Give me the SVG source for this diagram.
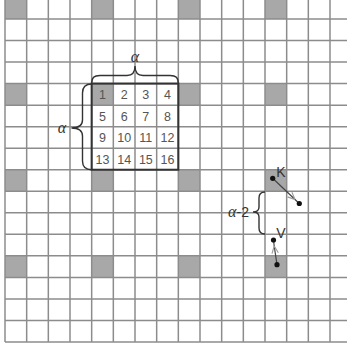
<svg xmlns="http://www.w3.org/2000/svg" width="347" height="349" viewBox="0 0 347 349">
<style>
.grid line{stroke:#8c8c8c;stroke-width:1.5}
.shade{fill:#a8a8a8}
.num{font-family:"Liberation Sans",Arial,sans-serif;font-size:12.5px;fill:#555;text-anchor:middle}
.lbl{font-family:"Liberation Sans",Arial,sans-serif;font-size:14px;fill:#333;text-anchor:middle}
.alpha{font-family:"Liberation Serif","DejaVu Serif",serif;font-style:italic;font-size:16px;fill:#333;text-anchor:middle}
.brace{fill:none;stroke:#333;stroke-width:1.4}
.conn{fill:none;stroke:#444;stroke-width:1.2}
.dot{fill:#111}
</style>
<defs>
<marker id="arr" viewBox="0 0 10 10" refX="10" refY="5" markerWidth="8" markerHeight="8" markerUnits="userSpaceOnUse" orient="auto">
<path d="M1,1 L10,5 L1,9" fill="none" stroke="#9a9a9a" stroke-width="1.4"/>
</marker>
</defs>
<rect width="347" height="349" fill="#fff"/>
<g id="shaded-cells">
<rect class="shade" x="5" y="-3" width="21.67" height="22"/>
<rect class="shade" x="91.67" y="-3" width="21.67" height="22"/>
<rect class="shade" x="178.33" y="-3" width="21.67" height="22"/>
<rect class="shade" x="265" y="-3" width="21.67" height="22"/>
<rect class="shade" x="5" y="83.6" width="21.67" height="21.53"/>
<rect class="shade" x="91.67" y="83.6" width="21.67" height="21.53"/>
<rect class="shade" x="178.33" y="83.6" width="21.67" height="21.53"/>
<rect class="shade" x="265" y="83.6" width="21.67" height="21.53"/>
<rect class="shade" x="5" y="169.73" width="21.67" height="21.53"/>
<rect class="shade" x="91.67" y="169.73" width="21.67" height="21.53"/>
<rect class="shade" x="178.33" y="169.73" width="21.67" height="21.53"/>
<rect class="shade" x="265" y="169.73" width="21.67" height="21.53"/>
<rect class="shade" x="5" y="255.87" width="21.67" height="21.53"/>
<rect class="shade" x="91.67" y="255.87" width="21.67" height="21.53"/>
<rect class="shade" x="178.33" y="255.87" width="21.67" height="21.53"/>
<rect class="shade" x="265" y="255.87" width="21.67" height="21.53"/>
</g>
<g id="grid" class="grid">
<line x1="5" y1="0" x2="5" y2="342"/>
<line x1="26.67" y1="0" x2="26.67" y2="342"/>
<line x1="48.33" y1="0" x2="48.33" y2="342"/>
<line x1="70" y1="0" x2="70" y2="342"/>
<line x1="91.67" y1="0" x2="91.67" y2="342"/>
<line x1="113.33" y1="0" x2="113.33" y2="342"/>
<line x1="135" y1="0" x2="135" y2="342"/>
<line x1="156.67" y1="0" x2="156.67" y2="342"/>
<line x1="178.33" y1="0" x2="178.33" y2="342"/>
<line x1="200" y1="0" x2="200" y2="342"/>
<line x1="221.67" y1="0" x2="221.67" y2="342"/>
<line x1="243.33" y1="0" x2="243.33" y2="342"/>
<line x1="265" y1="0" x2="265" y2="342"/>
<line x1="286.67" y1="0" x2="286.67" y2="342"/>
<line x1="308.33" y1="0" x2="308.33" y2="342"/>
<line x1="330" y1="0" x2="330" y2="342"/>
<line x1="5" y1="19" x2="347" y2="19"/>
<line x1="5" y1="40.53" x2="347" y2="40.53"/>
<line x1="5" y1="62.07" x2="347" y2="62.07"/>
<line x1="5" y1="83.6" x2="347" y2="83.6"/>
<line x1="5" y1="105.13" x2="347" y2="105.13"/>
<line x1="5" y1="126.67" x2="347" y2="126.67"/>
<line x1="5" y1="148.2" x2="347" y2="148.2"/>
<line x1="5" y1="169.73" x2="347" y2="169.73"/>
<line x1="5" y1="191.27" x2="347" y2="191.27"/>
<line x1="5" y1="212.8" x2="347" y2="212.8"/>
<line x1="5" y1="234.33" x2="347" y2="234.33"/>
<line x1="5" y1="255.87" x2="347" y2="255.87"/>
<line x1="5" y1="277.4" x2="347" y2="277.4"/>
<line x1="5" y1="298.93" x2="347" y2="298.93"/>
<line x1="5" y1="320.47" x2="347" y2="320.47"/>
<line x1="5" y1="342" x2="347" y2="342"/>
</g>
<g id="block">
<rect x="91.67" y="83.6" width="86.67" height="86.13" fill="none" stroke="#333" stroke-width="2"/>
<text class="num" x="102.5" y="99">1</text>
<text class="num" x="124.17" y="99">2</text>
<text class="num" x="145.83" y="99">3</text>
<text class="num" x="167.5" y="99">4</text>
<text class="num" x="102.5" y="120.5">5</text>
<text class="num" x="124.17" y="120.5">6</text>
<text class="num" x="145.83" y="120.5">7</text>
<text class="num" x="167.5" y="120.5">8</text>
<text class="num" x="102.5" y="142">9</text>
<text class="num" x="124.17" y="142">10</text>
<text class="num" x="145.83" y="142">11</text>
<text class="num" x="167.5" y="142">12</text>
<text class="num" x="102.5" y="163.6">13</text>
<text class="num" x="124.17" y="163.6">14</text>
<text class="num" x="145.83" y="163.6">15</text>
<text class="num" x="167.5" y="163.6">16</text>
</g>
<g id="brace-top">
<path class="brace" d="M91.7,84 C91.7,77.5 94,75.5 100,75.5 L127,75.5 C132,75.5 135,72 135,66 C135,72 138,75.5 143,75.5 L170,75.5 C176,75.5 178.3,77.5 178.3,84"/>
<text class="alpha" x="135" y="62">α</text>
</g>
<g id="brace-left">
<path class="brace" d="M91.7,84 C85,84 82.5,87 82.5,93 L82.5,120 C82.5,125 79,128 71.5,128 C79,128 82.5,131 82.5,136 L82.5,161 C82.5,167 85,169.7 91.7,169.7"/>
<text class="alpha" x="62" y="133">α</text>
</g>
<g id="brace-a2">
<path class="brace" d="M265,192 C261,192 259,194 259,198 L259,207 C259,210 257,212 253,212 C257,212 259,214 259,217 L259,228 C259,232 261,234 265,234"/>
<text class="lbl" x="238.5" y="217"><tspan font-family="'Liberation Serif',serif" font-style="italic" font-size="16">α</tspan>-2</text>
</g>
<g id="connectors">
<polyline class="conn" points="272.7,178.3 295,199.5 299.3,203.5" marker-mid="url(#arr)"/>
<polyline class="conn" points="277,264.7 274.2,246 273.5,240" marker-mid="url(#arr)"/>
</g>
<g id="node-K">
<circle class="dot" cx="272.7" cy="178.3" r="2.6"/>
<text class="lbl" x="281" y="177">K</text>
</g>
<g id="node-K2">
<circle class="dot" cx="299.3" cy="203.5" r="2.6"/>
</g>
<g id="node-V">
<circle class="dot" cx="273.5" cy="240" r="2.6"/>
<text class="lbl" x="281" y="238">V</text>
</g>
<g id="node-V2">
<circle class="dot" cx="277" cy="264.7" r="2.6"/>
</g>
</svg>
